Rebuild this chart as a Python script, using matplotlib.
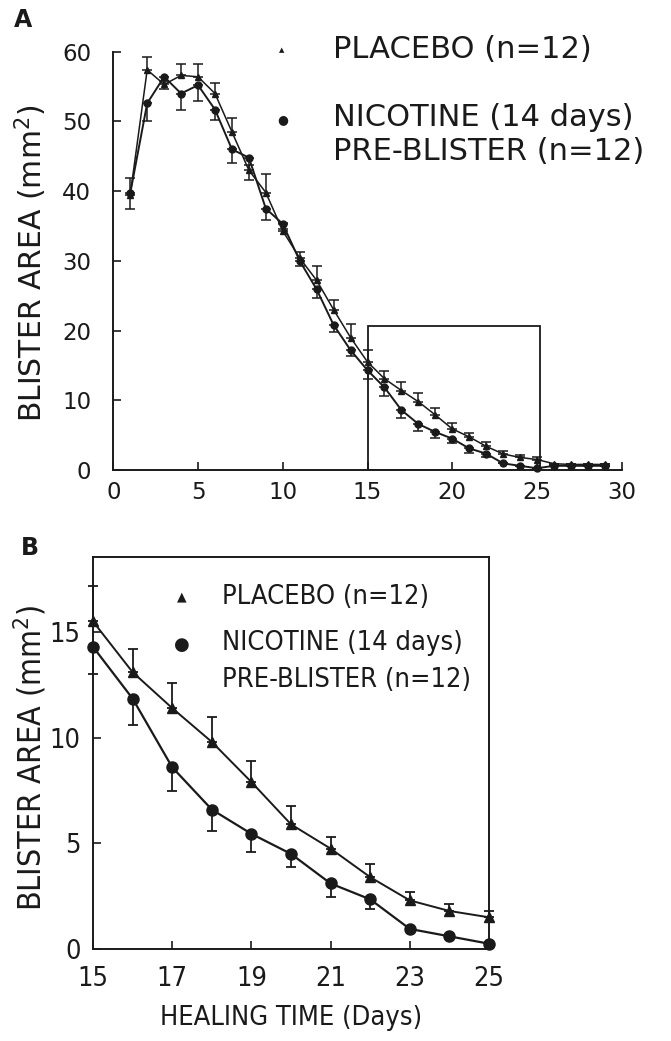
import matplotlib
matplotlib.use("Agg")
import matplotlib.pyplot as plt
import numpy as np
from matplotlib.patches import Rectangle

# ---- Panel A: full healing course (days 1-29) ----
days_a = list(range(1, 30))
placebo_a = [39.5, 57.4, 55.3, 56.6, 56.4, 54.0, 48.5, 43.0, 39.8, 34.3,
             30.4, 27.2, 23.0, 19.0, 15.5, 13.1, 11.4, 9.8, 7.9, 5.9,
             4.75, 3.4, 2.3, 1.8, 1.5, 0.9, 0.8, 0.8, 0.8]
placebo_a_err = [2.4, 1.9, 0.5, 1.6, 1.8, 1.5, 2.0, 0.8, 2.6, 1.2,
                 0.9, 2.0, 1.4, 2.0, 1.7, 1.1, 1.2, 1.2, 1.0, 0.85,
                 0.55, 0.6, 0.4, 0.35, 0.3, 0.0, 0.0, 0.0, 0.0]
nicotine_a = [39.7, 52.6, 56.4, 54.0, 55.2, 51.7, 46.0, 44.8, 37.5, 35.3,
              30.0, 25.9, 20.8, 17.2, 14.3, 11.85, 8.6, 6.6, 5.45, 4.5,
              3.1, 2.35, 0.95, 0.6, 0.25, 0.6, 0.6, 0.6, 0.6]
nicotine_a_err = [2.3, 2.6, 1.8, 2.4, 2.2, 1.5, 1.9, 3.2, 1.6, 0.8,
                  0.8, 1.3, 1.0, 0.9, 1.3, 1.25, 1.1, 1.0, 0.85, 0.6,
                  0.65, 0.45, 0.0, 0.0, 0.0, 0.0, 0.0, 0.0, 0.0]

# ---- Panel B: enlarged region, days 15-25 ----
days_b = list(range(15, 26))
placebo_b = [15.5, 13.1, 11.4, 9.8, 7.9, 5.9, 4.75, 3.4, 2.3, 1.8, 1.5]
placebo_b_err = [1.7, 1.1, 1.2, 1.2, 1.0, 0.85, 0.55, 0.6, 0.4, 0.35, 0.3]
nicotine_b = [14.3, 11.85, 8.6, 6.6, 5.45, 4.5, 3.1, 2.35, 0.95, 0.6, 0.25]
nicotine_b_err = [1.3, 1.25, 1.1, 1.0, 0.85, 0.6, 0.65, 0.45, 0.0, 0.0, 0.0]

xticks_a = [0, 5, 10, 15, 20, 25, 30]
yticks_a = [0, 10, 20, 30, 40, 50, 60]
xticks_b = [15, 17, 19, 21, 23, 25]
yticks_b = [0, 5, 10, 15]

label_placebo = "PLACEBO (n=12)"
label_nic1 = "NICOTINE (14 days)"
label_nic2 = "PRE-BLISTER (n=12)"
ylabel = "BLISTER AREA (mm$^{2}$)"
xlabel_b = "HEALING TIME (Days)"

W, H = 671, 1041
fig = plt.figure(figsize=(W / 100, H / 100), dpi=100)
ink = "#1a1a1a"
plt.rcParams["mathtext.default"] = "regular"

def fx(px):
    return px / W

def fy(py):
    return 1 - py / H

font_a = dict(family="DejaVu Sans", color=ink)
font_b = dict(family="DejaVu Sans", stretch="condensed", color=ink)

# ---------------- Panel A ----------------
axA = fig.add_axes([fx(113.3), fy(470), fx(621.7) - fx(113.3), fy(51.7) - fy(470)])
axA.set_xlim(0, 30)
axA.set_ylim(0, 60)
for s in ("top", "right"):
    axA.spines[s].set_visible(False)
for s in ("left", "bottom"):
    axA.spines[s].set_linewidth(1.4)
    axA.spines[s].set_color(ink)
axA.set_xticks(xticks_a)
axA.set_yticks(yticks_a)
axA.tick_params(direction="in", length=6, width=1.2, colors=ink)
axA.tick_params(axis="y", pad=16, labelsize=16.5)
axA.tick_params(axis="x", pad=8, labelsize=16.5)

axA.errorbar(days_a, placebo_a, yerr=[np.zeros(len(placebo_a)), placebo_a_err],
             fmt="-", marker="^", ms=4.5, color=ink, lw=1.1, elinewidth=1.1,
             capsize=3.5, capthick=1.1, clip_on=False, zorder=3)
axA.errorbar(days_a, nicotine_a, yerr=[nicotine_a_err, np.zeros(len(nicotine_a))],
             fmt="-", marker="o", ms=5, color=ink, lw=1.4, elinewidth=1.1,
             capsize=3.5, capthick=1.1, clip_on=False, zorder=3)
axA.add_patch(Rectangle((15, 0), 10.2, 20.6, fill=False, lw=1.3, ec=ink, zorder=2))

# Panel A key
fig.text(fx(282), fy(50), "\u25B2", fontsize=5, ha="center", va="center", **font_a)
fig.text(fx(283), fy(120), "\u25CF", fontsize=9, ha="center", va="center", **font_a)
fig.text(fx(333), fy(50), label_placebo, fontsize=22, ha="left", va="center", **font_a)
fig.text(fx(333), fy(118), label_nic1, fontsize=22, ha="left", va="center", **font_a)
fig.text(fx(333), fy(151), label_nic2, fontsize=22, ha="left", va="center", **font_a)
fig.text(fx(31), fy(263), ylabel, fontsize=21.5, rotation=90, ha="center", va="center", **font_a)
fig.text(fx(23), fy(20), "A", fontsize=17, fontweight="bold", ha="center", va="center", **font_a)

# ---------------- Panel B ----------------
axB = fig.add_axes([fx(93), fy(949), fx(489) - fx(93), fy(557) - fy(949)])
axB.set_xlim(15, 25)
axB.set_ylim(0, 18.55)
for s in axB.spines.values():
    s.set_linewidth(1.4)
    s.set_color(ink)
axB.set_xticks(xticks_b)
axB.set_yticks(yticks_b)
axB.tick_params(direction="in", length=6, width=1.2, colors=ink)
axB.tick_params(axis="x", pad=12, labelsize=19.5)
axB.tick_params(axis="y", pad=9, labelsize=19.5)
for lab in axB.get_xticklabels() + axB.get_yticklabels():
    lab.set_fontstretch("condensed")

axB.errorbar(days_b, placebo_b, yerr=[np.zeros(len(placebo_b)), placebo_b_err],
             fmt="-", marker="^", ms=7, color=ink, lw=1.4, elinewidth=1.3,
             capsize=3.5, capthick=1.3, clip_on=False, zorder=3)
axB.errorbar(days_b, nicotine_b, yerr=[nicotine_b_err, np.zeros(len(nicotine_b))],
             fmt="-", marker="o", ms=8, color=ink, lw=1.6, elinewidth=1.3,
             capsize=3.5, capthick=1.3, clip_on=False, zorder=3)

# Panel B key
fig.text(fx(182), fy(597), "\u25B2", fontsize=9, ha="center", va="center", **font_a)
fig.text(fx(182), fy(645), "\u25CF", fontsize=13, ha="center", va="center", **font_a)
fig.text(fx(222), fy(597), label_placebo, fontsize=19.5, ha="left", va="center", **font_b)
fig.text(fx(222), fy(643), label_nic1, fontsize=19.5, ha="left", va="center", **font_b)
fig.text(fx(222), fy(680), label_nic2, fontsize=19.5, ha="left", va="center", **font_b)
fig.text(fx(30), fy(758), ylabel, fontsize=23, rotation=90, ha="center", va="center", **font_b)
fig.text(fx(291), fy(1018), xlabel_b, fontsize=19.5, ha="center", va="center", **font_b)
fig.text(fx(30), fy(548), "B", fontsize=17, fontweight="bold", ha="center", va="center", **font_a)

fig.savefig("out.png", dpi=100, facecolor="white")
